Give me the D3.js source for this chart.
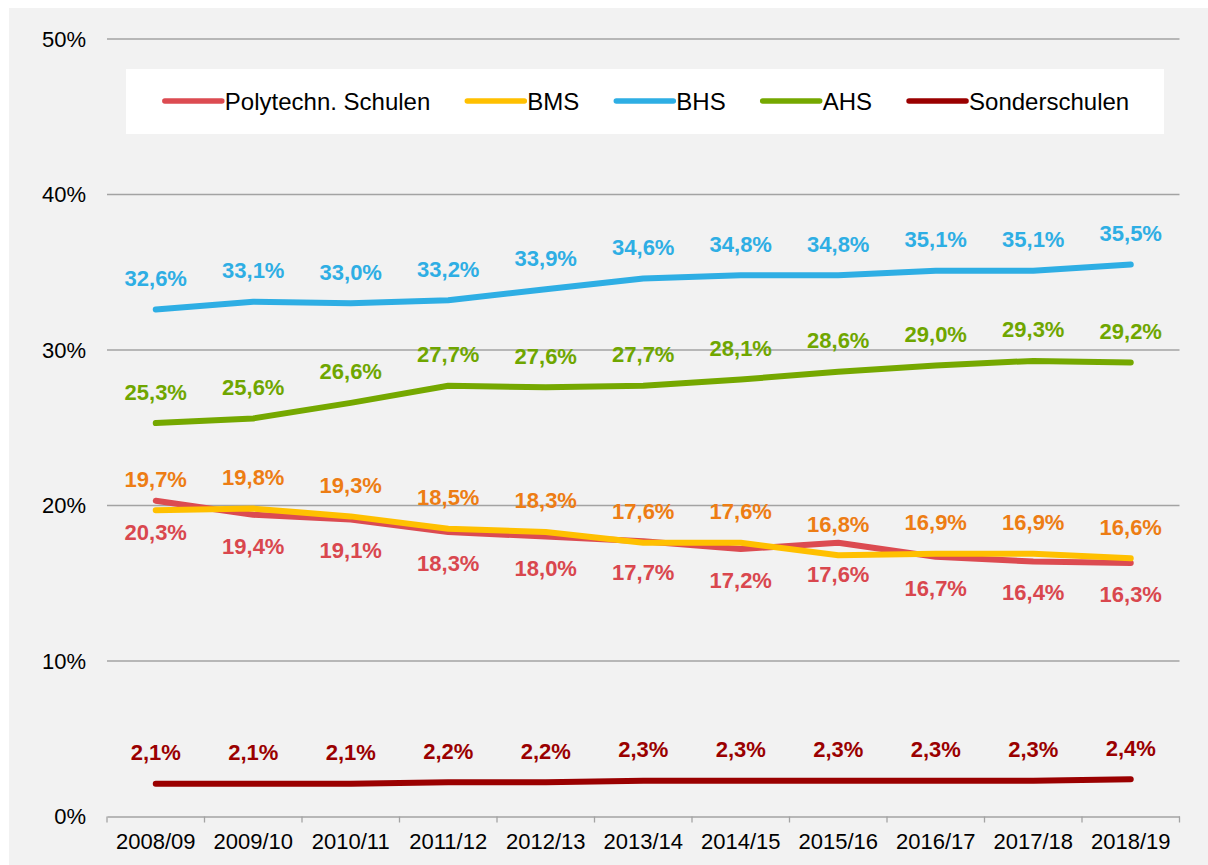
<!DOCTYPE html>
<html>
<head>
<meta charset="utf-8">
<script src="https://cdn.jsdelivr.net/npm/d3@7"></script>
<style>
  html, body { margin: 0; padding: 0; background: #ffffff; }
  svg { display: block; font-family: "Liberation Sans", Arial, sans-serif; }
</style>
</head>
<body>
<svg id="chart" width="1208" height="865"></svg>
<script>
// School years on the x axis
const years = ["2008/09", "2009/10", "2010/11", "2011/12", "2012/13", "2013/14",
               "2014/15", "2015/16", "2016/17", "2017/18", "2018/19"];

// Share of pupils per school type, in percent
const polytechn = [20.3, 19.4, 19.1, 18.3, 18.0, 17.7, 17.2, 17.6, 16.7, 16.4, 16.3];
const bms       = [19.7, 19.8, 19.3, 18.5, 18.3, 17.6, 17.6, 16.8, 16.9, 16.9, 16.6];
const bhs       = [32.6, 33.1, 33.0, 33.2, 33.9, 34.6, 34.8, 34.8, 35.1, 35.1, 35.5];
const ahs       = [25.3, 25.6, 26.6, 27.7, 27.6, 27.7, 28.1, 28.6, 29.0, 29.3, 29.2];
const sonder    = [2.1, 2.1, 2.1, 2.2, 2.2, 2.3, 2.3, 2.3, 2.3, 2.3, 2.4];

const seriesNames = ["Polytechn. Schulen", "BMS", "BHS", "AHS", "Sonderschulen"];
const yTicks = [0, 10, 20, 30, 40, 50];

// Drawing order, colours and label placement per series
const series = [
  { name: seriesNames[0], values: polytechn, line: "#dc4b51", text: "#d9474e", below: true },
  { name: seriesNames[1], values: bms,       line: "#ffc000", text: "#ed7d14", below: false },
  { name: seriesNames[2], values: bhs,       line: "#2eaee4", text: "#2eaee4", below: false },
  { name: seriesNames[3], values: ahs,       line: "#75a800", text: "#6fa600", below: false },
  { name: seriesNames[4], values: sonder,    line: "#9a0000", text: "#9a0000", below: false }
];

const svg = d3.select("#chart");
const W = 1208, H = 865;
const plot = { left: 107, right: 1179.5, top: 39, bottom: 816.5 };

// Chart area background
svg.append("rect").attr("x", 9).attr("y", 8)
  .attr("width", W - 9).attr("height", H - 8).attr("fill", "#f2f2f2");

const x = d3.scaleBand().domain(years).range([plot.left, plot.right]).paddingInner(0).paddingOuter(0);
const y = d3.scaleLinear().domain([0, 50]).range([plot.bottom, plot.top]);
const cx = d => x(d) + x.bandwidth() / 2;

// Horizontal gridlines
svg.append("g").selectAll("line")
  .data(yTicks.filter(t => t > 0))
  .join("line")
  .attr("x1", plot.left).attr("x2", plot.right)
  .attr("y1", d => y(d)).attr("y2", d => y(d))
  .attr("stroke", "#a3a3a3").attr("stroke-width", 1.3);

// Y axis labels
const yAxis = d3.axisLeft(y).tickValues(yTicks).tickSize(0).tickPadding(21)
  .tickFormat(d => d + "%");
const gy = svg.append("g").attr("transform", `translate(${plot.left},0)`).call(yAxis);
gy.select(".domain").remove();
gy.selectAll("text").attr("font-size", 22).attr("fill", "#000")
  .attr("font-family", "Liberation Sans, Arial, sans-serif");

// X axis with tick marks at category boundaries
const xAxis = d3.axisBottom(x).tickSize(0).tickPadding(17);
const gx = svg.append("g").attr("transform", `translate(0,${plot.bottom})`).call(xAxis);
gx.select(".domain").attr("stroke", "#a3a3a3").attr("stroke-width", 1.3);
gx.selectAll("text").attr("font-size", 22).attr("fill", "#000")
  .attr("font-family", "Liberation Sans, Arial, sans-serif");
gx.append("g").selectAll("line")
  .data(d3.range(years.length + 1))
  .join("line")
  .attr("x1", i => plot.left + i * x.step()).attr("x2", i => plot.left + i * x.step())
  .attr("y1", 0).attr("y2", 6)
  .attr("stroke", "#a3a3a3").attr("stroke-width", 1.3);

// Series lines
const lineGen = d3.line()
  .x((v, i) => cx(years[i]))
  .y(v => y(v))
  .curve(d3.curveLinear);

svg.append("g").selectAll("path")
  .data(series)
  .join("path")
  .attr("d", s => lineGen(s.values))
  .attr("fill", "none")
  .attr("stroke", s => s.line)
  .attr("stroke-width", 6)
  .attr("stroke-linecap", "round")
  .attr("stroke-linejoin", "round");

// Value labels
const fmt = v => d3.format(".1f")(v).replace(".", ",") + "%";
series.forEach(s => {
  svg.append("g").selectAll("text")
    .data(s.values)
    .join("text")
    .attr("x", (v, i) => cx(years[i]))
    .attr("y", v => s.below ? y(v) + 39 : y(v) - 23.5)
    .attr("text-anchor", "middle")
    .attr("font-size", 22)
    .attr("font-weight", "bold")
    .attr("fill", s.text)
    .text(fmt);
});

// Legend
const legendBox = { x: 126, y: 69, w: 1038, h: 65 };
svg.append("rect")
  .attr("x", legendBox.x).attr("y", legendBox.y)
  .attr("width", legendBox.w).attr("height", legendBox.h)
  .attr("fill", "#ffffff");

const lg = svg.append("g");
const swatch = 57, gapText = 3, gapItem = 37;
const lineY = legendBox.y + 32;
const items = series.map(s => {
  const g = lg.append("g");
  g.append("line").attr("x1", 0).attr("x2", swatch)
    .attr("y1", lineY).attr("y2", lineY)
    .attr("stroke", s.line).attr("stroke-width", 5.5).attr("stroke-linecap", "round");
  const t = g.append("text").attr("x", swatch + gapText).attr("y", lineY + 8.5)
    .attr("font-size", 24).attr("fill", "#000").text(s.name);
  return { g, w: swatch + gapText + t.node().getComputedTextLength() };
});
const total = d3.sum(items, d => d.w) + gapItem * (items.length - 1);
let pos = legendBox.x + (legendBox.w - total) / 2 + 2;
items.forEach(it => {
  it.g.attr("transform", `translate(${pos},0)`);
  pos += it.w + gapItem;
});
</script>
</body>
</html>
